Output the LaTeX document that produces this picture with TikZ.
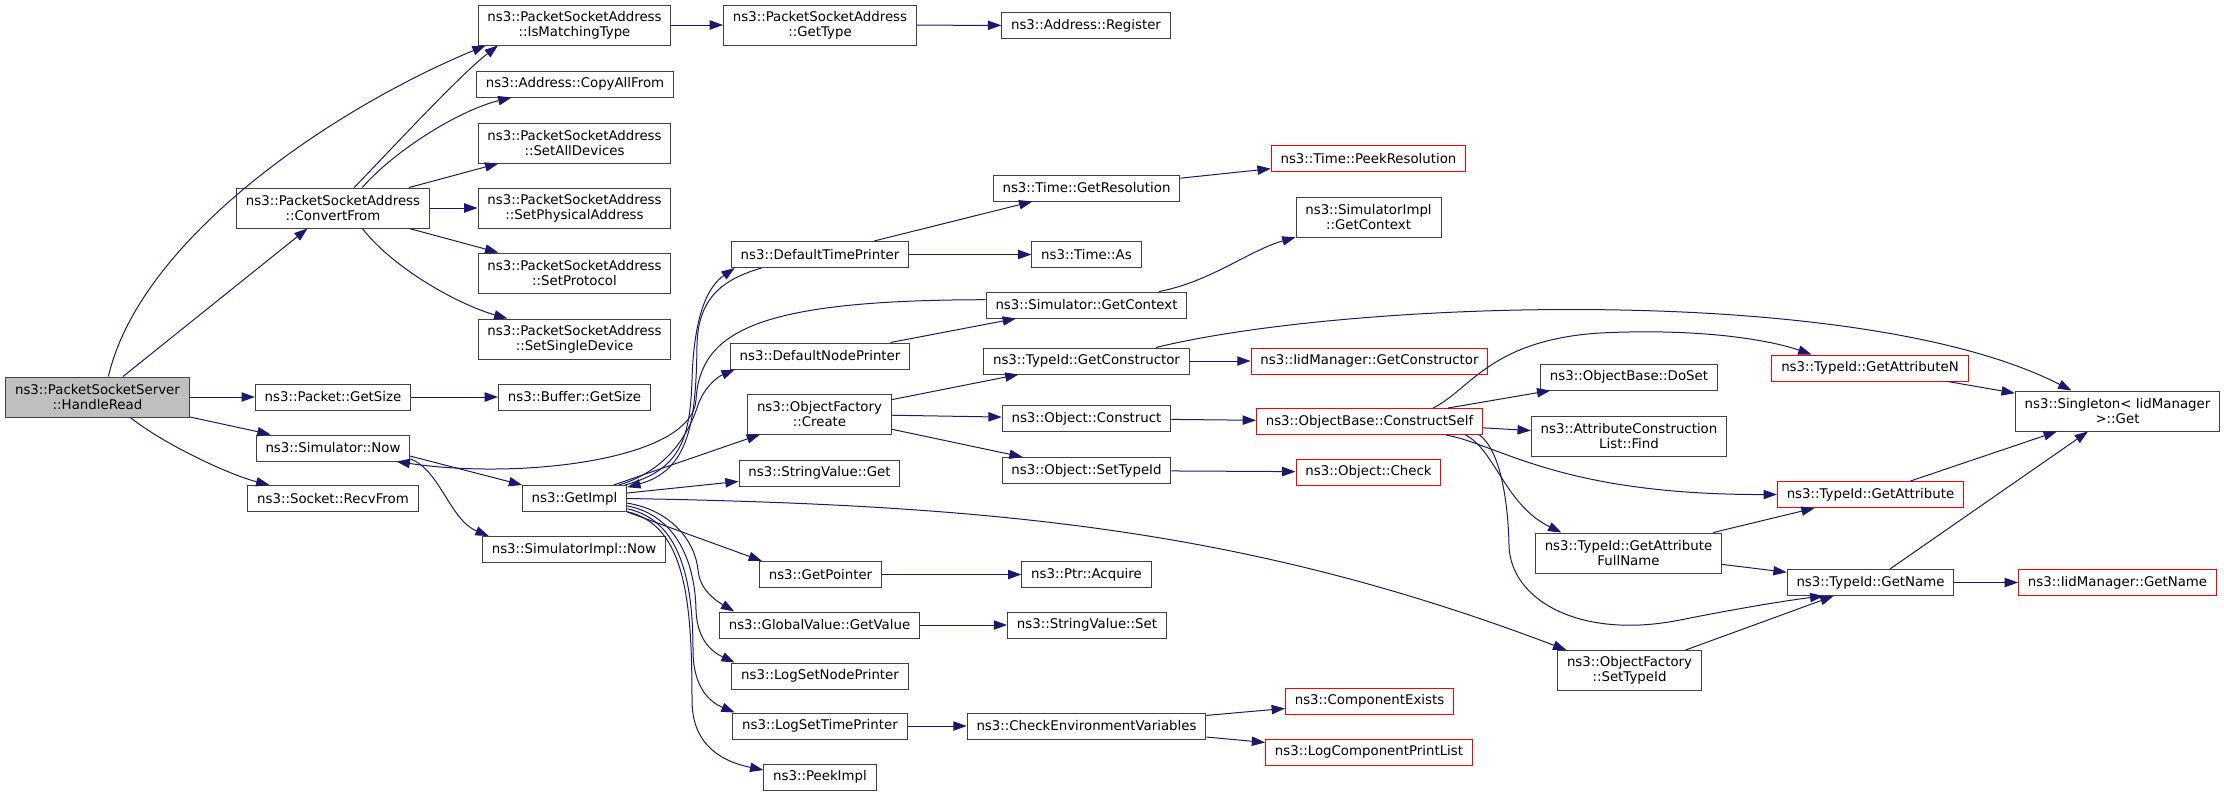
\documentclass[tikz,border=0pt]{standalone}
\usepackage{fontspec}
\setmainfont{DejaVu Sans}
\usetikzlibrary{arrows.meta}
\definecolor{edgeblue}{HTML}{191970}
\definecolor{boxgray}{HTML}{404040}
\definecolor{rootgray}{HTML}{BFBFBF}
\definecolor{boxred}{HTML}{FF0000}

\tikzset{
  fn/.style={draw=boxgray, line width=0.75pt, fill=white, inner xsep=7pt, inner ysep=3pt,
    minimum height=19.5pt, align=center, font=\fontsize{10}{11.25}\selectfont},
  fntwo/.style={fn, minimum height=30pt},
  fnred/.style={fn, draw=boxred},
  fnroot/.style={fntwo, fill=rootgray},
  call/.style={->, draw=edgeblue, line width=0.75pt}
}

\begin{document}
\begin{tikzpicture}[x=0.75pt, y=-0.75pt, >={Triangle[length=10pt,width=7pt]}]
  \useasboundingbox (0,0) rectangle (2224,796);

  \node[fnroot] at (97.5,397) (hr) {ns3::PacketSocketServer\\::HandleRead};
  \node[fntwo] at (333,208) (cvf) {ns3::PacketSocketAddress\\::ConvertFrom};
  \node[fn] at (333,397) (pgs) {ns3::Packet::GetSize};
  \node[fn] at (333,448) (snow) {ns3::Simulator::Now};
  \node[fn] at (333,498.5) (rcv) {ns3::Socket::RecvFrom};

  \node[fntwo] at (574.5,25) (imt) {ns3::PacketSocketAddress\\::IsMatchingType};
  \node[fn] at (575,84) (caf) {ns3::Address::CopyAllFrom};
  \node[fntwo] at (574.5,143) (sad) {ns3::PacketSocketAddress\\::SetAllDevices};
  \node[fntwo] at (574.5,208) (spa) {ns3::PacketSocketAddress\\::SetPhysicalAddress};
  \node[fntwo] at (574.5,273) (spr) {ns3::PacketSocketAddress\\::SetProtocol};
  \node[fntwo] at (574.5,339) (ssd) {ns3::PacketSocketAddress\\::SetSingleDevice};
  \node[fn] at (574.5,397) (bgs) {ns3::Buffer::GetSize};
  \node[fn] at (574.5,498.5) (gimpl) {ns3::GetImpl};
  \node[fn] at (574,549.5) (sinow) {ns3::SimulatorImpl::Now};

  \node[fntwo] at (820,25) (gty) {ns3::PacketSocketAddress\\::GetType};
  \node[fn] at (820,254.5) (dtp) {ns3::DefaultTimePrinter};
  \node[fn] at (820,356) (dnp) {ns3::DefaultNodePrinter};
  \node[fntwo] at (819.5,414) (ofc) {ns3::ObjectFactory\\::Create};
  \node[fn] at (819.5,473) (svg) {ns3::StringValue::Get};
  \node[fn] at (820.5,574.5) (gptr) {ns3::GetPointer};
  \node[fn] at (819.5,625) (gval) {ns3::GlobalValue::GetValue};
  \node[fn] at (820,676) (lsnp) {ns3::LogSetNodePrinter};
  \node[fn] at (820,726) (lstp) {ns3::LogSetTimePrinter};
  \node[fn] at (820,777) (pimpl) {ns3::PeekImpl};

  \node[fn] at (1086,25.5) (reg) {ns3::Address::Register};
  \node[fn] at (1086.5,188) (gres) {ns3::Time::GetResolution};
  \node[fn] at (1086.5,254.5) (tas) {ns3::Time::As};
  \node[fn] at (1086.5,305) (sctx) {ns3::Simulator::GetContext};
  \node[fn] at (1086.5,361) (gcon) {ns3::TypeId::GetConstructor};
  \node[fn] at (1086.5,418.5) (ocon) {ns3::Object::Construct};
  \node[fn] at (1086.5,470.5) (ostid) {ns3::Object::SetTypeId};
  \node[fn] at (1086.5,574.5) (acq) {ns3::Ptr::Acquire};
  \node[fn] at (1087,625) (svs) {ns3::StringValue::Set};
  \node[fn] at (1086.5,726) (cev) {ns3::CheckEnvironmentVariables};

  \node[fnred] at (1368.5,158.5) (peek) {ns3::Time::PeekResolution};
  \node[fntwo] at (1368.5,217) (sictx) {ns3::SimulatorImpl\\::GetContext};
  \node[fnred] at (1369.5,361) (igcon) {ns3::IidManager::GetConstructor};
  \node[fnred] at (1369.5,421.5) (cself) {ns3::ObjectBase::ConstructSelf};
  \node[fnred] at (1368.5,472) (ochk) {ns3::Object::Check};
  \node[fnred] at (1369.5,701) (cex) {ns3::ComponentExists};
  \node[fnred] at (1369,752) (lcpl) {ns3::LogComponentPrintList};

  \node[fn] at (1629,377) (doset) {ns3::ObjectBase::DoSet};
  \node[fntwo] at (1629,436) (acl) {ns3::AttributeConstruction\\List::Find};
  \node[fntwo] at (1628.5,553) (gafn) {ns3::TypeId::GetAttribute\\FullName};
  \node[fntwo] at (1629.5,670.5) (ofstid) {ns3::ObjectFactory\\::SetTypeId};

  \node[fnred] at (1870,368) (gan) {ns3::TypeId::GetAttributeN};
  \node[fnred] at (1870.5,494.5) (gatt) {ns3::TypeId::GetAttribute};
  \node[fn] at (1870.5,582.5) (gname) {ns3::TypeId::GetName};

  \node[fntwo] at (2117.5,411) (sing) {ns3::Singleton< IidManager\\ >::Get};
  \node[fnred] at (2117.5,582.5) (igname) {ns3::IidManager::GetName};

  \draw[call] (hr) -- (pgs);
  \draw[call] (hr) -- (cvf);
  \draw[call] (hr) -- (snow);
  \draw[call] (hr.62) .. controls (140,240) and (330,110) .. (imt.193);
  \draw[call] (hr.-32) .. controls (165,445) and (230,475) .. (rcv.168);

  \draw[call] (cvf.44) .. controls (400,140) and (460,75) .. (imt.195);
  \draw[call] (cvf.35) .. controls (395,150) and (460,110) .. (caf.192);
  \draw[call] (cvf) -- (sad);
  \draw[call] (cvf) -- (spa);
  \draw[call] (cvf) -- (spr);
  \draw[call] (cvf.-35) .. controls (395,270) and (460,305) .. (ssd.163);
  \draw[call] (imt) -- (gty);
  \draw[call] (gty) -- (reg);
  \draw[call] (pgs) -- (bgs);

  \draw[call] (snow.-6) -- (gimpl);
  \draw[call] (snow.-8) .. controls (440,470) and (450,520) .. (sinow.171);
  \draw[call] (sctx.177) .. controls (760,300) and (700,330) .. (696,400)
    .. controls (692,460) and (520,480) .. (snow.-12);

  \draw[call] (gimpl) -- (ofc);
  \draw[call] (gimpl) -- (svg);
  \draw[call] (gimpl.south east) -- (gptr.167);
  \draw[call] (gimpl.east) .. controls (1000,505) and (1250,530) .. (ofstid.162);
  \draw[call] (gimpl.15) .. controls (680,470) and (690,440) .. (692,380)
    .. controls (694,310) and (710,285) .. (dtp.189);
  \draw[call] (gimpl.17) .. controls (670,470) and (690,430) .. (698,405)
    .. controls (703,390) and (715,378) .. (dnp.189);
  \draw[call] (gimpl.-5) .. controls (670,510) and (695,540) .. (698,570)
    .. controls (700,590) and (715,600) .. (gval.171);
  \draw[call] (gimpl.-8) .. controls (675,515) and (695,560) .. (696,610)
    .. controls (697,640) and (712,652) .. (lsnp.171);
  \draw[call] (gimpl.-11) .. controls (680,520) and (693,580) .. (693,650)
    .. controls (693,690) and (712,703) .. (lstp.171);
  \draw[call] (gimpl.-14) .. controls (685,525) and (692,600) .. (692,700)
    .. controls (692,740) and (715,760) .. (pimpl.173);

  \draw[call] (dtp.193) .. controls (720,280) and (698,300) .. (697,345)
    .. controls (696,420) and (690,470) .. (gimpl.12);
  \draw[call] (dtp) -- (gres);
  \draw[call] (dtp) -- (tas);
  \draw[call] (gres) -- (peek);
  \draw[call] (dnp) -- (sctx);
  \draw[call] (sctx) .. controls (1210,282) and (1250,250) .. (sictx);

  \draw[call] (ofc) -- (gcon);
  \draw[call] (ofc) -- (ocon);
  \draw[call] (ofc) -- (ostid);
  \draw[call] (gcon) -- (igcon);
  \draw[call] (gcon.11) .. controls (1350,300) and (1860,282) .. (sing.156);
  \draw[call] (ocon) -- (cself);
  \draw[call] (ostid) -- (ochk);

  \draw[call] (cself.12) .. controls (1470,390) and (1490,340) .. (1600,333)
    .. controls (1700,328) and (1770,340) .. (gan.167);
  \draw[call] (cself) -- (doset);
  \draw[call] (cself) -- (acl);
  \draw[call] (cself.-10) .. controls (1500,445) and (1560,495) .. (gatt.west);
  \draw[call] (cself.-8) .. controls (1495,450) and (1505,505) .. (gafn.163);
  \draw[call] (cself.-7) .. controls (1500,450) and (1508,500) .. (1509,545)
    .. controls (1510,600) and (1580,640) .. (1680,620)
    .. controls (1740,608) and (1790,600) .. (gname.196);

  \draw[call] (gan) -- (sing);
  \draw[call] (gatt) -- (sing);
  \draw[call] (gafn) -- (gatt);
  \draw[call] (gafn) -- (gname);
  \draw[call] (gname) -- (sing);
  \draw[call] (gname) -- (igname);
  \draw[call] (ofstid) -- (gname);

  \draw[call] (gptr) -- (acq);
  \draw[call] (gval) -- (svs);
  \draw[call] (lstp) -- (cev);
  \draw[call] (cev) -- (cex);
  \draw[call] (cev) -- (lcpl);
\end{tikzpicture}
\end{document}
